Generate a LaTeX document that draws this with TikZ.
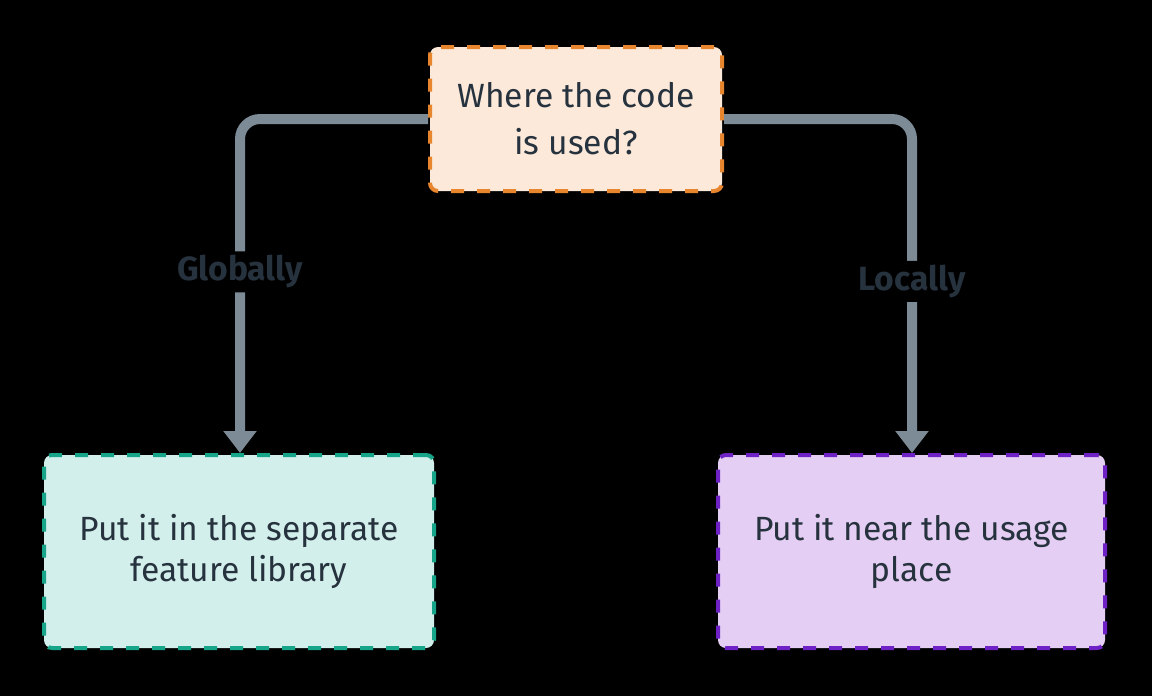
\documentclass[tikz,border=0pt]{standalone}
\usepackage{fontspec}
\setmainfont{Fira Sans}
\usetikzlibrary{arrows.meta}

\definecolor{ink}{HTML}{26323D}
\definecolor{wire}{HTML}{7D8B97}
\definecolor{askfill}{HTML}{FCE9DA}
\definecolor{askline}{HTML}{E8862F}
\definecolor{globfill}{HTML}{D2EFEB}
\definecolor{globline}{HTML}{17A589}
\definecolor{locfill}{HTML}{E4CEF3}
\definecolor{locline}{HTML}{6E22C6}

\begin{document}
\begin{tikzpicture}[%
    x=0.5pt, y=-0.5pt,                  % one unit is one pixel of the sketch
    >={Triangle[width=16pt,length=11pt]}, % Small blunt arrow heads
    ]
% -------------------------------------------------
% Box and connector styles
\tikzset{
  base/.style={draw, rounded corners=4pt, line width=2pt,
    dash pattern=on 6.5pt off 6.5pt, align=center, text=ink, inner sep=0pt,
    font=\fontsize{16.8}{20.5}\selectfont},
  ask/.style={base, draw=askline, fill=askfill, minimum width=146pt,
    minimum height=72pt, font=\fontsize{16.8}{23.5}\selectfont},
  glob/.style={base, draw=globline, fill=globfill, minimum width=195pt,
    minimum height=96.5pt},
  loc/.style={base, draw=locline, fill=locfill, minimum width=193.5pt,
    minimum height=96.5pt},
  % Connector line and its label
  conn/.style={->, draw=wire, line width=5pt, rounded corners=10pt},
  lbl/.style={fill=black, text=ink, inner sep=2pt,
    font=\bfseries\fontsize{16.8}{18}\selectfont}
}
% -------------------------------------------------
% Transparent page shows as black
\fill[black] (0,0) rectangle (1152,696);

% Start by placing the nodes
\node [ask] (where) at (576,119) {Where the code\\is used?};
\node [glob] (global) at (239,551.5) {Put it in the separate\\feature library};
\node [loc] (local) at (911.5,551.5) {Put it near the usage\\place};

\draw[conn] (where.west) -| (global.north -| 240,0)
  node[lbl, pos=0.729] (globlbl) {Globally};    %where,global
\draw[conn] (where.east) -| (local.north -| 912,0)
  node[lbl, pos=0.743] (loclbl) {Locally};      %where,local

% -------------------------------------------------
\end{tikzpicture}
\end{document}
